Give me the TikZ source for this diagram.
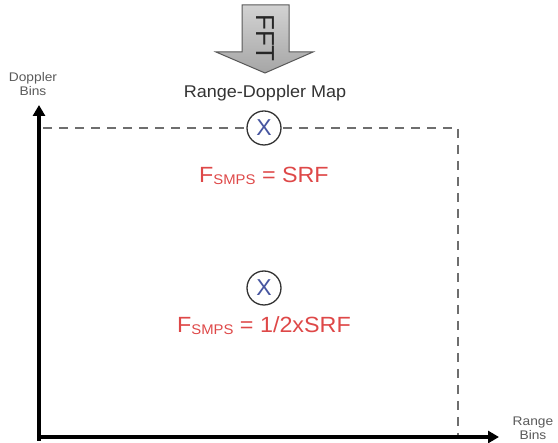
\documentclass[tikz,border=0pt]{standalone}
\usepackage{fontspec}
\setmainfont{Liberation Sans}
\usetikzlibrary{arrows.meta}
\definecolor{fred}{RGB}{222,72,72}
\definecolor{xblue}{RGB}{70,85,160}
\definecolor{dashgray}{RGB}{110,110,110}
\definecolor{labgray}{RGB}{90,90,90}
\newcommand{\smps}{{\fontsize{14}{15}\selectfont\raisebox{-2pt}{SMPS}}}
\begin{document}
\begin{tikzpicture}[x=1pt,y=-1pt,
  axis/.style={line width=3.8pt,-{Triangle[length=11pt,width=12pt]}},
  dashline/.style={dashgray,line width=1.6pt,dash pattern=on 9pt off 7pt},
  marker/.style={circle,draw=black!80,line width=1.3pt,minimum size=34pt,inner sep=0pt,fill=white},
  xmark/.style={text=xblue,font=\fontsize{23}{23}\selectfont},
  freq/.style={text=fred,font=\fontsize{22}{24}\selectfont,xscale=1.06},
  axlabel/.style={text=labgray,font=\fontsize{12.5}{14}\selectfont,align=center,xscale=1.1}]
\useasboundingbox (0,0) rectangle (558,443);
% FFT block arrow
\shade[top color=gray!35,bottom color=gray!70,draw=gray!70!black,line width=1pt]
  (242,5) -- (289,5) -- (289,52) -- (313,52) -- (265,73) -- (216,52) -- (242,52) -- cycle;
\node[rotate=-90,font=\fontsize{26}{28}\selectfont,text=black!85] (fft) at (265,38) {FFT};
\node[font=\fontsize{17}{18}\selectfont,text=black!80,xscale=1.06] (title) at (265,93) {Range-Doppler Map};
% axes and dashed frame
\coordinate (ybot) at (39,441);
\coordinate (ytop) at (39,105);
\coordinate (xbeg) at (37,437);
\coordinate (xend) at (499,437);
\coordinate (dtl) at (43,128);
\coordinate (dtr) at (458,128);
\coordinate (dbr) at (458,437);
\draw[dashline] (dtl) -- (dtr) -- (dbr);
\draw[axis] (ybot) -- (ytop);
\draw[axis] (xbeg) -- (xend);
\node[axlabel] (dop) at (33,84) {Doppler\\Bins};
\node[axlabel,anchor=south] (rng) at (533,443) {Range\\Bins};
% markers
\node[marker] (m1) at (264,128) {};
\node[xmark] (x1) at (m1) {X};
\node[freq] (f1) at (264,176) {F\smps{} = SRF};
\node[marker] (m2) at (264,288) {};
\node[xmark] (x2) at (m2) {X};
\node[freq] (f2) at (264,326) {F\smps{} = 1/2xSRF};
\end{tikzpicture}
\end{document}
